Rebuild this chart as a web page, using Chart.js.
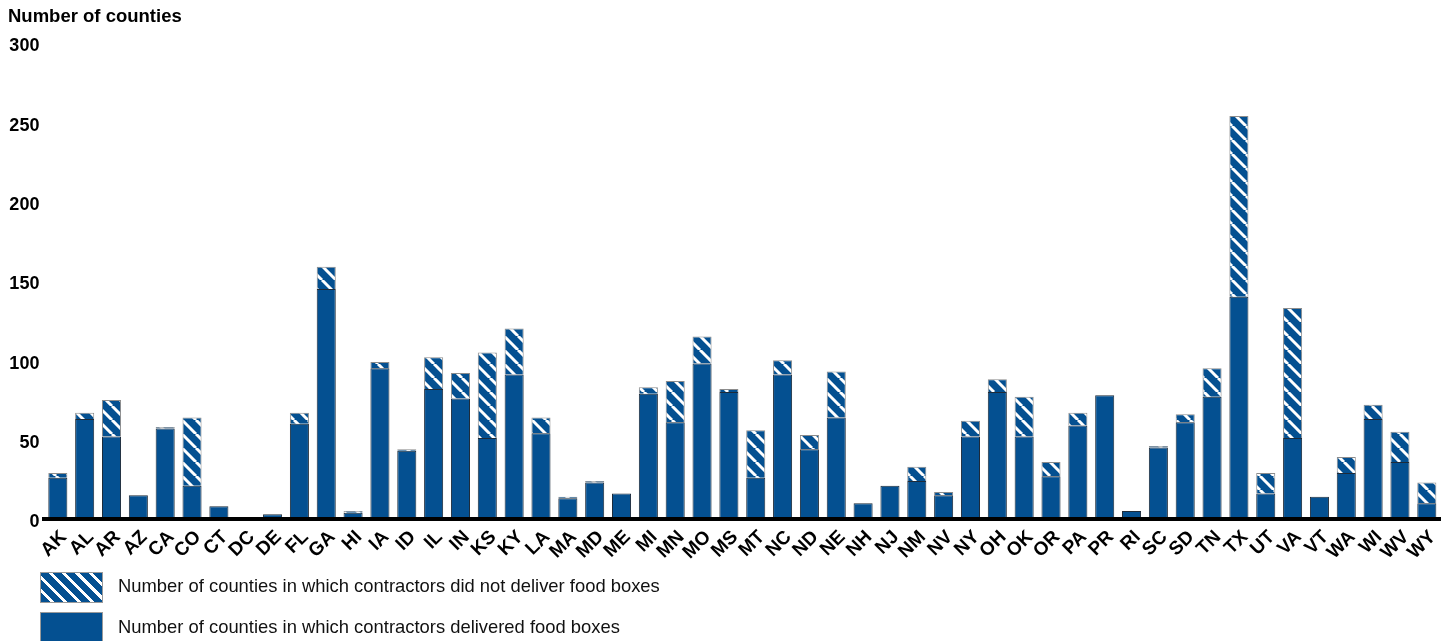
<!DOCTYPE html>
<html>
<head>
<meta charset="utf-8">
<script src="https://cdn.jsdelivr.net/npm/chart.js@4/dist/chart.umd.min.js"></script>
<style>
  html, body { margin: 0; padding: 0; background: #fff; }
  #wrap { position: relative; width: 1450px; height: 641px; overflow: hidden; font-family: "Liberation Sans", Arial, sans-serif; }
  #c { position: absolute; left: 0; top: 0; }
  .sw { position: absolute; left: 40px; width: 63px; box-sizing: border-box; border: 1px solid #9a9a9a; }
  .sw1 { top: 572px; height: 31px;
         background: repeating-linear-gradient(45deg, #045091 0px, #045091 6.5px, #ffffff 6.5px, #ffffff 9.5px); }
  .sw2 { top: 612px; height: 31px; background: #045091; }
  .lt { position: absolute; left: 118px; font-size: 18.4px; color: #111; white-space: nowrap; line-height: 20px; }
  .lt1 { top: 576px; }
  .lt2 { top: 617px; }
</style>
</head>
<body>
<div id="wrap">
  <canvas id="c" width="1450" height="641"></canvas>
  <div class="sw sw1"></div>
  <div class="lt lt1">Number of counties in which contractors did not deliver food boxes</div>
  <div class="sw sw2"></div>
  <div class="lt lt2">Number of counties in which contractors delivered food boxes</div>
</div>
<script>
const states = ['AK','AL','AR','AZ','CA','CO','CT','DC','DE','FL','GA','HI','IA','ID','IL','IN','KS','KY','LA','MA','MD','ME','MI','MN','MO','MS','MT','NC','ND','NE','NH','NJ','NM','NV','NY','OH','OK','OR','PA','PR','RI','SC','SD','TN','TX','UT','VA','VT','WA','WI','WV','WY'];
const delivered = [26,63,52,15,57,21,8,1,3,60,145,4,95,43,82,76,51,91,54,13,23,16,79,61,98,80,26,91,44,64,10,21,24,15,52,80,52,27,59,78,5,45,61,77,140,16,51,14,29,63,36,10];
const notDelivered = [3,4,23,0,1,43,0,0,0,7,14,1,4,1,20,16,54,29,10,1,1,0,4,26,17,2,30,9,9,29,0,0,9,2,10,8,25,9,8,0,0,1,5,18,114,13,82,0,10,9,19,13];
const yTicks = [0,50,100,150,200,250,300];
const titleText = 'Number of counties';
const seriesNames = ['Number of counties in which contractors delivered food boxes','Number of counties in which contractors did not deliver food boxes'];

const BLUE = '#045091';
function makeHatch() {
  const s = 14;
  const t = document.createElement('canvas');
  t.width = s; t.height = s;
  const g = t.getContext('2d');
  g.fillStyle = BLUE; g.fillRect(0,0,s,s);
  g.strokeStyle = '#ffffff'; g.lineWidth = 3;
  for (const o of [-s, 0, s]) {
    g.beginPath(); g.moveTo(o, 0); g.lineTo(o + s, s); g.stroke();
  }
  return document.getElementById('c').getContext('2d').createPattern(t, 'repeat');
}

const FONT = '"Liberation Sans", Arial, sans-serif';
new Chart(document.getElementById('c'), {
  type: 'bar',
  data: {
    labels: states,
    datasets: [
      { label: seriesNames[0], data: delivered, backgroundColor: BLUE, borderColor: '#1d2b3a', borderWidth: 1, barPercentage: 0.71, categoryPercentage: 1 },
      { label: seriesNames[1], data: notDelivered, backgroundColor: makeHatch(), borderColor: '#8c8c8c', borderWidth: 1, barPercentage: 0.71, categoryPercentage: 1 }
    ]
  },
  options: {
    responsive: false,
    animation: false,
    devicePixelRatio: 1,
    layout: { padding: { left: 8, right: 7, top: 0, bottom: 0 } },
    plugins: {
      legend: { display: false },
      tooltip: { enabled: false },
      title: { display: true, text: titleText, align: 'start', color: '#000',
               font: { family: FONT, size: 18.5, weight: 'bold' }, padding: { top: 6, bottom: 14.8 } }
    },
    scales: {
      x: {
        stacked: true,
        grid: { display: false, drawTicks: false },
        border: { display: true, color: '#000', width: 4, z: 1 },
        ticks: { autoSkip: false, maxRotation: 45, minRotation: 45, padding: 7, labelOffset: 6,
                 color: '#000', font: { family: FONT, size: 19, weight: 'bold' } },
        afterFit: s => { s.height = 122; }
      },
      y: {
        stacked: true, min: 0, max: 300,
        afterBuildTicks: s => { s.ticks = yTicks.map(v => ({ value: v })); },
        grid: { display: false, drawTicks: false },
        border: { display: false },
        ticks: { padding: 5, labelOffset: 3.5, color: '#000', font: { family: FONT, size: 18, weight: 'bold' } },
        afterFit: s => { s.width = 36.4; }
      }
    }
  }
});
</script>
</body>
</html>
